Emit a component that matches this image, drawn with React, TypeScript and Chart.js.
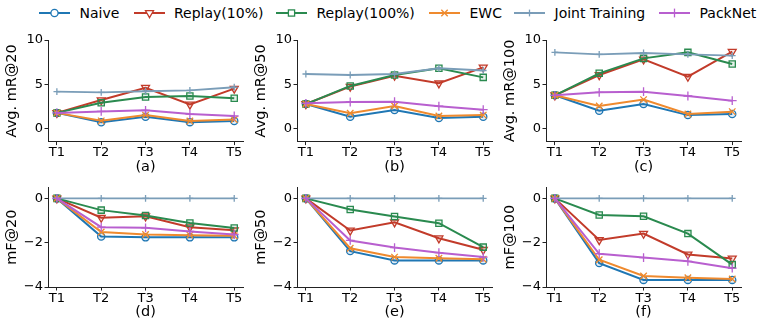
import React, { useEffect, useRef } from 'react';
import { Chart, registerables } from 'chart.js';
Chart.register(...registerables);

const FONT = "'DejaVu Sans', sans-serif";

// ---- data ----
const tasks = ['T1', 'T2', 'T3', 'T4', 'T5'];
const methods = ['Naive', 'Replay(10%)', 'Replay(100%)', 'EWC', 'Joint Training', 'PackNet'];

// Avg. mR@20
const mR20_naive = [1.75, 0.68, 1.32, 0.7, 0.83];
const mR20_replay10 = [1.75, 3.2, 4.6, 2.7, 4.5];
const mR20_replay100 = [1.75, 2.9, 3.55, 3.66, 3.4];
const mR20_ewc = [1.75, 0.85, 1.5, 0.83, 1.0];
const mR20_joint = [4.15, 4.07, 4.2, 4.3, 4.65];
const mR20_packnet = [1.75, 1.92, 2.04, 1.62, 1.4];

// Avg. mR@50
const mR50_naive = [2.75, 1.32, 2.08, 1.17, 1.32];
const mR50_replay10 = [2.75, 4.72, 5.96, 5.1, 6.9];
const mR50_replay100 = [2.75, 4.8, 6.04, 6.8, 5.77];
const mR50_ewc = [2.75, 1.7, 2.53, 1.4, 1.5];
const mR50_joint = [6.15, 6.04, 6.15, 6.8, 6.55];
const mR50_packnet = [2.83, 2.98, 3.02, 2.5, 2.11];

// Avg. mR@100
const mR100_naive = [3.74, 2.0, 2.75, 1.5, 1.62];
const mR100_replay10 = [3.74, 6.04, 7.81, 5.85, 8.68];
const mR100_replay100 = [3.74, 6.23, 7.92, 8.6, 7.28];
const mR100_ewc = [3.74, 2.53, 3.25, 1.62, 1.89];
const mR100_joint = [8.6, 8.38, 8.53, 8.38, 8.23];
const mR100_packnet = [3.74, 4.08, 4.15, 3.66, 3.13];

// mF@20
const mF20_naive = [0, -1.72, -1.76, -1.76, -1.76];
const mF20_replay10 = [0, -0.87, -0.81, -1.3, -1.44];
const mF20_replay100 = [0, -0.53, -0.77, -1.11, -1.34];
const mF20_ewc = [0, -1.52, -1.63, -1.66, -1.69];
const mF20_joint = [0, 0, 0, 0, 0];
const mF20_packnet = [0, -1.3, -1.33, -1.49, -1.63];

// mF@50
const mF50_naive = [0, -2.38, -2.8, -2.8, -2.8];
const mF50_replay10 = [0, -1.45, -1.08, -1.8, -2.32];
const mF50_replay100 = [0, -0.5, -0.82, -1.12, -2.2];
const mF50_ewc = [0, -2.25, -2.65, -2.7, -2.75];
const mF50_joint = [0, 0, 0, 0, 0];
const mF50_packnet = [0, -1.9, -2.22, -2.45, -2.65];

// mF@100
const mF100_naive = [0, -2.92, -3.68, -3.68, -3.68];
const mF100_replay10 = [0, -1.88, -1.59, -2.53, -2.71];
const mF100_replay100 = [0, -0.75, -0.81, -1.59, -2.99];
const mF100_ewc = [0, -2.77, -3.5, -3.58, -3.64];
const mF100_joint = [0, 0, 0, 0, 0];
const mF100_packnet = [0, -2.5, -2.67, -2.84, -3.15];

const mRTicks = [0, 5, 10];
const mFTicks = [0, -2, -4];

// ---- styles ----
const COLORS = ['#1f77b4', '#c23b2a', '#2a8a4f', '#ef8a2e', '#7a9db8', '#b85fcf'];
const FILLS = ['rgba(31,119,180,0.12)', 'rgba(194,59,42,0.12)', 'rgba(42,138,79,0.12)', 'rgba(239,138,46,0.12)', 'rgba(122,157,184,0.12)', 'rgba(184,95,207,0.12)'];
const MARKERS: any[] = [
  { style: 'circle', r: 3.6, rot: 0 },
  { style: 'triangle', r: 4.6, rot: 180 },
  { style: 'rect', r: 4.4, rot: 0 },
  { style: 'crossRot', r: 4.6, rot: 0 },
  { style: 'cross', r: 3.4, rot: 0 },
  { style: 'cross', r: 4.4, rot: 0 },
];

const fmt = (v: number) => (v < 0 ? '\u2212' + Math.abs(v) : String(v));

type PanelProps = {
  series: number[][];
  yLabel: string;
  xLabel: string;
  yTicks: number[];
  yMin: number;
  yMax: number;
  left: number;
  top: number;
  width: number;
  height: number;
  padTop: number;
  xAxisH: number;
  xTitlePadBottom: number;
  yTitlePadTop: number;
};

function Panel(p: PanelProps) {
  const ref = useRef<HTMLCanvasElement>(null);
  useEffect(() => {
    const canvas = ref.current!;
    const chart = new Chart(canvas, {
      type: 'line',
      data: {
        datasets: methods.map((m, i) => ({
          label: m,
          data: p.series[i].map((v, j) => ({ x: j, y: v })),
          borderColor: COLORS[i],
          backgroundColor: FILLS[i],
          borderWidth: i === 4 ? 1.8 : 2,
          pointStyle: MARKERS[i].style,
          pointRadius: MARKERS[i].r,
          pointRotation: MARKERS[i].rot,
          pointBorderWidth: 1.3,
          pointBorderColor: COLORS[i],
          pointBackgroundColor: FILLS[i],
          tension: 0,
          fill: false,
          order: 5 - i,
        })),
      },
      options: {
        animation: false,
        responsive: false,
        devicePixelRatio: 1,
        events: [],
        layout: { padding: { top: p.padTop, right: 2, left: 0, bottom: 0 } },
        plugins: { legend: { display: false }, tooltip: { enabled: false } },
        scales: {
          x: {
            type: 'linear',
            min: -0.2,
            max: 4.2,
            afterBuildTicks: (s: any) => {
              s.ticks = tasks.map((_, i) => ({ value: i }));
            },
            afterFit: (s: any) => {
              s.height = p.xAxisH;
            },
            ticks: {
              callback: (v: any) => tasks[v as number],
              font: { family: FONT, size: 13 },
              color: '#000',
              padding: 0,
              maxRotation: 0,
              autoSkip: false,
            },
            grid: { display: true, drawOnChartArea: false, drawTicks: true, tickLength: 3.5, color: '#222', lineWidth: 1 },
            border: { display: true, color: '#222', width: 1 },
            title: {
              display: true,
              text: p.xLabel,
              font: { family: FONT, size: 14.5 },
              color: '#000',
              padding: { top: 0, bottom: p.xTitlePadBottom },
            },
          },
          y: {
            type: 'linear',
            min: p.yMin,
            max: p.yMax,
            afterBuildTicks: (s: any) => {
              s.ticks = p.yTicks.map((v) => ({ value: v }));
            },
            afterFit: (s: any) => {
              s.width = 48;
            },
            ticks: {
              callback: (v: any) => fmt(v as number),
              font: { family: FONT, size: 13 },
              color: '#000',
              padding: 1.5,
            },
            grid: { display: true, drawOnChartArea: false, drawTicks: true, tickLength: 3.5, color: '#222', lineWidth: 1 },
            border: { display: true, color: '#222', width: 1 },
            title: {
              display: true,
              text: p.yLabel,
              font: { family: FONT, size: 14.5 },
              color: '#000',
              padding: { top: p.yTitlePadTop, bottom: 0 },
            },
          },
        },
      },
    } as any);
    return () => chart.destroy();
  }, []);
  return (
    <canvas
      ref={ref}
      width={p.width}
      height={p.height}
      style={{ position: 'absolute', left: p.left, top: p.top, width: p.width, height: p.height }}
    />
  );
}

function LegendMarker({ i }: { i: number }) {
  const c = COLORS[i];
  const cx = 15.5;
  const cy = 7;
  let mk: any = null;
  if (i === 0) mk = <circle cx={cx} cy={cy} r={3.6} fill="white" stroke={c} strokeWidth={1.3} />;
  else if (i === 1) {
    const r = 4.6;
    const pts = `${cx},${cy + r} ${cx - r * 0.866},${cy - r / 2} ${cx + r * 0.866},${cy - r / 2}`;
    mk = <polygon points={pts} fill="white" stroke={c} strokeWidth={1.3} />;
  } else if (i === 2) mk = <rect x={cx - 3.1} y={cy - 3.1} width={6.2} height={6.2} fill="white" stroke={c} strokeWidth={1.3} />;
  else if (i === 3) {
    const d = 3.2;
    mk = (
      <g stroke={c} strokeWidth={1.3}>
        <line x1={cx - d} y1={cy - d} x2={cx + d} y2={cy + d} />
        <line x1={cx - d} y1={cy + d} x2={cx + d} y2={cy - d} />
      </g>
    );
  } else {
    const d = i === 4 ? 3.4 : 4.4;
    mk = (
      <g stroke={c} strokeWidth={1.3}>
        <line x1={cx} y1={cy - d} x2={cx} y2={cy + d} />
        <line x1={cx - d} y1={cy} x2={cx + d} y2={cy} />
      </g>
    );
  }
  return (
    <svg width={31} height={14} style={{ display: 'block' }}>
      <line x1={0} y1={cy} x2={31} y2={cy} stroke={c} strokeWidth={2} />
      {mk}
    </svg>
  );
}

const legendLeft = [39, 133.5, 276, 429, 514, 659];

function Legend() {
  return (
    <>
      {methods.map((m, i) => (
        <div
          key={m}
          style={{
            position: 'absolute',
            left: legendLeft[i],
            top: 4,
            height: 18,
            display: 'flex',
            alignItems: 'center',
            whiteSpace: 'nowrap',
          }}
        >
          <LegendMarker i={i} />
          <span style={{ marginLeft: 9.5, fontFamily: FONT, fontSize: 14, color: '#000', lineHeight: '18px' }}>{m}</span>
        </div>
      ))}
    </>
  );
}

export default function App() {
  const top = { top: 28, height: 150, padTop: 12, xAxisH: 36.4, xTitlePadBottom: 2.3, yMin: -1.5, yMax: 10, yTicks: mRTicks, yTitlePadTop: 3.3 };
  const bot = { top: 178, height: 149, padTop: 5.5, xAxisH: 40, xTitlePadBottom: 5.8, yMin: -4, yMax: 0.5, yTicks: mFTicks, yTitlePadTop: 4 };
  const W = 249;
  return (
    <div style={{ position: 'absolute', left: 0, top: 0, width: 763, height: 327, background: '#fff', overflow: 'hidden' }}>
      <Legend />
      <Panel {...top} left={0} width={W} yLabel="Avg. mR@20" xLabel="(a)"
        series={[mR20_naive, mR20_replay10, mR20_replay100, mR20_ewc, mR20_joint, mR20_packnet]} />
      <Panel {...top} left={249} width={W} yLabel="Avg. mR@50" xLabel="(b)"
        series={[mR50_naive, mR50_replay10, mR50_replay100, mR50_ewc, mR50_joint, mR50_packnet]} />
      <Panel {...top} left={498} width={W} yLabel="Avg. mR@100" xLabel="(c)"
        series={[mR100_naive, mR100_replay10, mR100_replay100, mR100_ewc, mR100_joint, mR100_packnet]} />
      <Panel {...bot} left={0} width={W} yLabel="mF@20" xLabel="(d)"
        series={[mF20_naive, mF20_replay10, mF20_replay100, mF20_ewc, mF20_joint, mF20_packnet]} />
      <Panel {...bot} left={249} width={W} yLabel="mF@50" xLabel="(e)"
        series={[mF50_naive, mF50_replay10, mF50_replay100, mF50_ewc, mF50_joint, mF50_packnet]} />
      <Panel {...bot} left={498} width={W} yLabel="mF@100" xLabel="(f)"
        series={[mF100_naive, mF100_replay10, mF100_replay100, mF100_ewc, mF100_joint, mF100_packnet]} />
    </div>
  );
}
